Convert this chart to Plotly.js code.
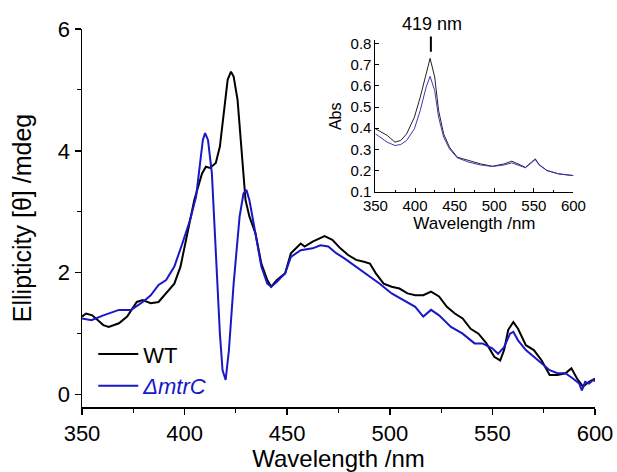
<!DOCTYPE html>
<html>
<head>
<meta charset="utf-8">
<script src="https://cdn.plot.ly/plotly-3.0.1.min.js"></script>
<style>html,body{margin:0;padding:0;background:#fff}#chart{width:617px;height:472px}</style>
</head>
<body>
<div id="chart"></div>
<script>
// Main CD spectra (wavelength nm, ellipticity mdeg)
const wtWavelength = [350,352,355,360.4,363,368,372,376.7,379.6,383.5,387.3,391,395,398,400.8,404.7,408.5,410.4,412.4,415.2,417.2,419.1,421,422.6,423.9,425.8,427.8,429.7,431.6,434.5,437.4,440.3,442.2,445,449,451.8,456.6,458.5,462.4,468.2,472,475.9,479.7,483.6,487.4,490.3,493.2,497,500.9,504.7,508.6,512.4,516.3,520.1,524,527.8,531.7,535.5,539.4,543.2,547.1,550.9,553.8,555.7,557.7,560.2,562.5,566.3,570.2,574,577.9,581.7,585.6,588.5,591.3,594.2,597.1,599,600];
const wtEllipticity = [1.28,1.33,1.30,1.14,1.11,1.17,1.28,1.52,1.55,1.50,1.52,1.66,1.82,2.10,2.54,3.19,3.63,3.74,3.72,3.80,4.07,4.67,5.17,5.30,5.22,4.84,4.02,3.19,2.92,2.65,2.15,1.88,1.77,1.88,1.99,2.32,2.48,2.43,2.51,2.60,2.54,2.40,2.29,2.21,2.18,2.15,1.99,1.82,1.77,1.74,1.66,1.63,1.63,1.69,1.61,1.44,1.33,1.25,1.08,1.00,0.84,0.62,0.56,0.73,1.06,1.19,1.08,0.81,0.73,0.56,0.32,0.32,0.35,0.43,0.26,0.13,0.21,0.24,0.26];
const mtrCWavelength = [350,354.6,360.4,368,373.9,379.6,383.5,387.3,391,395,398.9,402.7,405.6,407.5,408.9,410,411.4,413.3,415.2,417.2,418.5,420,421.6,423.9,426.8,428.7,430.1,431.6,434.5,437.4,440.3,442.2,445,449,451.8,456.6,462.4,466.2,470,473.9,477.7,483.6,489.3,495.1,500.9,506.7,512.4,516.3,520.1,524,529.8,535.5,541.3,545.1,549.9,552.8,555.7,558.6,560.2,562.5,566.3,570.2,574,577.9,581.7,585.6,589.4,592.3,593.6,595.2,597.1,599,600];
const mtrCEllipticity = [1.25,1.22,1.30,1.39,1.39,1.52,1.63,1.80,1.88,2.10,2.48,2.87,3.25,3.85,4.18,4.29,4.18,3.63,2.37,1.00,0.40,0.24,0.73,1.82,2.92,3.30,3.36,3.19,2.65,2.10,1.82,1.77,1.85,1.99,2.26,2.37,2.40,2.45,2.43,2.32,2.24,2.10,1.96,1.82,1.66,1.55,1.44,1.28,1.39,1.30,1.11,1.00,0.84,0.84,0.76,0.67,0.78,1.00,1.03,0.89,0.73,0.62,0.51,0.40,0.35,0.35,0.26,0.18,0.07,0.21,0.18,0.24,0.22];

// Inset absorbance spectra
const absWavelength = [350,364.8,374.6,382,389.4,399.2,406.6,414,419,424.8,429.7,436.1,443.5,453.3,468.1,482.9,497.6,512.4,522.2,532.1,539.4,546.9,551.8,556.7,566.5,581.3,600];
const wtAbs = [0.397,0.366,0.334,0.342,0.373,0.452,0.547,0.658,0.730,0.642,0.484,0.373,0.310,0.263,0.247,0.231,0.220,0.231,0.244,0.228,0.215,0.239,0.255,0.228,0.200,0.184,0.176];
const mtrCAbs = [0.373,0.334,0.318,0.323,0.342,0.397,0.484,0.594,0.645,0.578,0.452,0.358,0.302,0.260,0.239,0.226,0.219,0.226,0.236,0.223,0.213,0.236,0.252,0.226,0.200,0.184,0.176];

const peakLabel = '419 nm';
const peakWavelength = 419;

const FONT = 'Liberation Sans, Arial, sans-serif';
const BLUE = '#1818c8';

const traces = [
  {x: wtWavelength, y: wtEllipticity, type: 'scatter', mode: 'lines', name: 'WT',
   line: {color: '#000000', width: 2}, xaxis: 'x', yaxis: 'y'},
  {x: mtrCWavelength, y: mtrCEllipticity, type: 'scatter', mode: 'lines',
   name: '<span style="color:' + BLUE + '"><i>ΔmtrC</i></span>',
   line: {color: BLUE, width: 2}, xaxis: 'x', yaxis: 'y'},
  {x: absWavelength, y: wtAbs, type: 'scatter', mode: 'lines', showlegend: false,
   line: {color: '#222222', width: 1}, xaxis: 'x2', yaxis: 'y2'},
  {x: absWavelength, y: mtrCAbs, type: 'scatter', mode: 'lines', showlegend: false,
   line: {color: '#3a3ab4', width: 1}, xaxis: 'x2', yaxis: 'y2'}
];

const layout = {
  width: 617, height: 472,
  margin: {l: 82, r: 22, t: 29, b: 65},
  paper_bgcolor: '#fff', plot_bgcolor: 'rgba(0,0,0,0)',
  font: {family: FONT, color: '#000', size: 22},
  showlegend: true,
  legend: {x: 0.022, y: 0.195, xanchor: 'left', yanchor: 'top', bgcolor: 'rgba(0,0,0,0)',
           font: {size: 22, family: FONT}, tracegroupgap: 0, itemwidth: 40},
  xaxis: {
    domain: [0, 1], range: [350, 600], showline: true, linecolor: '#000', linewidth: 1.5,
    ticks: 'outside', ticklen: 6, tickwidth: 1.5, tickcolor: '#000', dtick: 50, tick0: 350,
    minor: {ticks: 'outside', ticklen: 4, dtick: 25, tickcolor: '#000', tickwidth: 1},
    showgrid: false, zeroline: false, tickfont: {size: 22},
    title: {text: 'Wavelength /nm', font: {size: 24}, standoff: 5}, automargin: false
  },
  yaxis: {
    domain: [0, 1], range: [-0.204, 6], showline: true, linecolor: '#000', linewidth: 1.5,
    ticks: 'outside', ticklen: 6, tickwidth: 1.5, tickcolor: '#000', dtick: 2, tick0: 0,
    minor: {ticks: 'outside', ticklen: 4, dtick: 1, tickcolor: '#000', tickwidth: 1},
    showgrid: false, zeroline: false, tickfont: {size: 22},
    title: {text: 'Ellipticity [θ] /mdeg', font: {size: 25}, standoff: 19}, automargin: false
  },
  xaxis2: {
    domain: [0.572, 0.958], anchor: 'y2', range: [350, 600], showline: true, linecolor: '#000', linewidth: 1,
    ticks: 'inside', ticklen: 4, tickwidth: 1, tickcolor: '#000', dtick: 50, tick0: 350,
    minor: {ticks: 'inside', ticklen: 2.5, dtick: 25, tickcolor: '#000', tickwidth: 1},
    showgrid: false, zeroline: false, tickfont: {size: 15},
    title: {text: 'Wavelength /nm', font: {size: 17}, standoff: 2}, automargin: false
  },
  yaxis2: {
    domain: [0.568, 0.97], anchor: 'x2', range: [0.097, 0.815], showline: true, linecolor: '#000', linewidth: 1,
    ticks: 'inside', ticklen: 4, tickwidth: 1, tickcolor: '#000', dtick: 0.1, tick0: 0.1,
    tickformat: '.1f', showgrid: false, zeroline: false, tickfont: {size: 15},
    title: {text: 'Abs', font: {size: 16}, standoff: 4}, automargin: false
  },
  shapes: [
    {type: 'line', xref: 'x2', yref: 'paper', x0: peakWavelength + 1, x1: peakWavelength + 1,
     y0: 0.940, y1: 0.980, line: {color: '#000', width: 2}}
  ],
  annotations: [
    {text: peakLabel, xref: 'x2', yref: 'paper', x: peakWavelength + 3, y: 1.012,
     xanchor: 'center', yanchor: 'middle', showarrow: false, font: {size: 18, family: FONT}}
  ]
};

Plotly.newPlot('chart', traces, layout, {staticPlot: true, displayModeBar: false});
</script>
</body>
</html>
